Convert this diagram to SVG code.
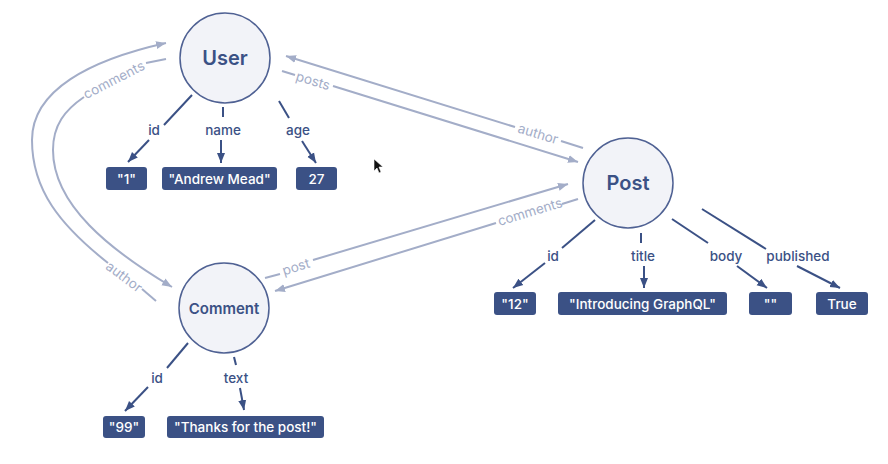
<svg xmlns="http://www.w3.org/2000/svg" width="888" height="464" viewBox="0 0 888 464">
<defs>
<style>
.node circle{fill:#f2f3f8;stroke:#4f6193;stroke-width:1.5}
.ntitle{font-family:Inter,"Open Sans",sans-serif;font-weight:600;fill:#3b5185;text-anchor:middle}
.box rect{fill:#3b5185}
.box text{font-family:Inter,"Open Sans",sans-serif;font-size:13.5px;font-weight:500;fill:#fff;text-anchor:middle}
.dk{stroke:#3b5185;stroke-width:2;fill:none}
.lt{stroke:#a3adc8;stroke-width:2;fill:none}
.fl{font-family:Inter,"Open Sans",sans-serif;font-size:13.5px;font-weight:500;fill:#3b5185;text-anchor:middle}
.el{font-family:Inter,"Open Sans",sans-serif;font-size:13.5px;fill:#a3adc8;text-anchor:middle}
</style>
<marker id="ad" viewBox="0 0 10 10" refX="10" refY="5" markerWidth="10" markerHeight="10" markerUnits="userSpaceOnUse" orient="auto"><path d="M0,1 L10,5 L0,9 z" fill="#3b5185"/></marker>
<marker id="al" viewBox="0 0 10 10" refX="10" refY="5" markerWidth="10" markerHeight="10" markerUnits="userSpaceOnUse" orient="auto"><path d="M0,1 L10,5 L0,9 z" fill="#a3adc8"/></marker>
</defs>
<rect width="888" height="464" fill="#fff"/>

<g id="connectors">
<!-- User <-> Comment -->
<path class="lt" d="M166,59 L146,63"/>
<g transform="translate(114,80) rotate(-27)"><text class="el" x="0" y="4.5">comments</text></g>
<path class="lt" d="M84,97 C65,110 53,125 53,150 C53,205 110,250 172,287" marker-end="url(#al)"/>
<path class="lt" d="M156,301 L142,289"/>
<g transform="translate(124,277) rotate(37)"><text class="el" x="0" y="4.5">author</text></g>
<path class="lt" d="M108,263 C60,225 32,190 32,140 C32,90 90,60 166,43" marker-end="url(#al)"/>
<!-- User <-> Post -->
<path class="lt" d="M282,71 L295,75"/>
<g transform="translate(313,81) rotate(17)"><text class="el" x="0" y="4.5">posts</text></g>
<path class="lt" d="M333,86 L578,162" marker-end="url(#al)"/>
<path class="lt" d="M583,148 L561,141"/>
<g transform="translate(538,134) rotate(17)"><text class="el" x="0" y="4.5">author</text></g>
<path class="lt" d="M515,127 L286,56" marker-end="url(#al)"/>
<!-- Post <-> Comment -->
<path class="lt" d="M578,199 L562,204"/>
<g transform="translate(530,212) rotate(-17)"><text class="el" x="0" y="4.5">comments</text></g>
<path class="lt" d="M496,223 L275,291" marker-end="url(#al)"/>
<path class="lt" d="M265,278 L280,274"/>
<g transform="translate(296,267) rotate(-17)"><text class="el" x="0" y="4.5">post</text></g>
<path class="lt" d="M313,260 L568,184" marker-end="url(#al)"/>
<!-- User fields -->
<path class="dk" d="M192,95 L164,125"/><text class="fl" x="154" y="135">id</text><path class="dk" d="M149,140 L128,162" marker-end="url(#ad)"/>
<path class="dk" d="M223,107 L223,117"/><text class="fl" x="223" y="135">name</text><path class="dk" d="M221,140 L221,163" marker-end="url(#ad)"/>
<path class="dk" d="M279,101 L289,118"/><text class="fl" x="298" y="135">age</text><path class="dk" d="M302,141 L316,163" marker-end="url(#ad)"/>
<!-- Post fields -->
<path class="dk" d="M595,220 L562,248"/><text class="fl" x="553" y="261">id</text><path class="dk" d="M545,263 L513,288" marker-end="url(#ad)"/>
<path class="dk" d="M641,233 L641,243"/><text class="fl" x="643" y="261">title</text><path class="dk" d="M644,266 L644,288" marker-end="url(#ad)"/>
<path class="dk" d="M672,219 L708,243"/><text class="fl" x="726" y="261">body</text><path class="dk" d="M737,266 L767,288" marker-end="url(#ad)"/>
<path class="dk" d="M702,209 L766,249"/><text class="fl" x="798" y="261">published</text><path class="dk" d="M797,266 L840,288" marker-end="url(#ad)"/>
<!-- Comment fields -->
<path class="dk" d="M188,343 L167,368"/><text class="fl" x="157" y="383">id</text><path class="dk" d="M148,387 L125,411" marker-end="url(#ad)"/>
<path class="dk" d="M234,357 L236,365"/><text class="fl" x="236" y="383">text</text><path class="dk" d="M240,388 L244,410" marker-end="url(#ad)"/>
</g>

<g id="user" class="node"><circle cx="225" cy="58" r="45"/><text class="ntitle" x="225" y="65" font-size="20">User</text></g>
<g id="post" class="node"><circle cx="628" cy="183" r="45"/><text class="ntitle" x="628" y="190" font-size="20">Post</text></g>
<g id="comment" class="node"><circle cx="224" cy="308" r="45"/><text class="ntitle" x="224" y="313.5" font-size="15" font-weight="700">Comment</text></g>

<g id="user-id" class="box"><rect x="106" y="167" width="41" height="23" rx="3"/><text x="126.5" y="183.5">"1"</text></g>
<g id="user-name" class="box"><rect x="162" y="167" width="115" height="23" rx="3"/><text x="219.5" y="183.5">"Andrew Mead"</text></g>
<g id="user-age" class="box"><rect x="296" y="167" width="41" height="23" rx="3"/><text x="316.5" y="183.5">27</text></g>

<g id="post-id" class="box"><rect x="494" y="292" width="42" height="23" rx="3"/><text x="515" y="308.5">"12"</text></g>
<g id="post-title" class="box"><rect x="558" y="292" width="169" height="23" rx="3"/><text x="642.5" y="308.5">"Introducing GraphQL"</text></g>
<g id="post-body" class="box"><rect x="749" y="292" width="43" height="23" rx="3"/><text x="770.5" y="308.5">""</text></g>
<g id="post-published" class="box"><rect x="816" y="292" width="52" height="23" rx="3"/><text x="842" y="308.5">True</text></g>

<g id="comment-id" class="box"><rect x="103" y="416" width="42" height="22" rx="3"/><text x="124" y="432">"99"</text></g>
<g id="comment-text" class="box"><rect x="167" y="416" width="157" height="22" rx="3"/><text x="245.5" y="432">"Thanks for the post!"</text></g>

<path d="M374,159 L374,171 L377,168 L379,173 L381,172 L379,167 L383,167 z" fill="#111" stroke="#fff" stroke-width="0.6"/>
</svg>
